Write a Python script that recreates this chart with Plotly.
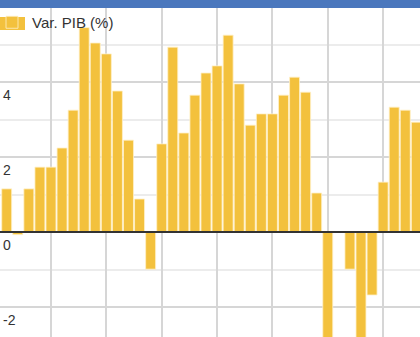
import plotly.graph_objects as go

periods = list(range(1, 39))
pib_var = [1.15, -0.07, 1.15, 1.73, 1.73, 2.24, 3.25, 5.45, 5.04, 4.75,
           3.76, 2.45, 0.88, -0.99, 2.35, 4.93, 2.64, 3.65, 4.24, 4.43,
           5.25, 3.95, 2.85, 3.15, 3.15, 3.65, 4.13, 3.73, 1.04, -3.6,
           0.0, -0.99, -3.8, -1.68, 1.33, 3.33, 3.25, 2.93]
series_name = "Var. PIB (%)"
y_ticks = [-2, 0, 2, 4]
y_tick_text = ["-2", "0", "2", "4"]

W, H = 420, 337
bar_color = "#F3C13D"

fig = go.Figure()
fig.add_trace(go.Bar(
    x=periods, y=pib_var, name=series_name,
    marker=dict(color=bar_color, line=dict(color="rgba(255,240,200,0.8)", width=1)),
    showlegend=True,
))

fig.update_layout(
    width=W, height=H,
    margin=dict(l=0, r=0, t=0, b=0, autoexpand=False),
    paper_bgcolor="white", plot_bgcolor="white",
    bargap=0.1,
    font=dict(family="Liberation Sans, Arial, sans-serif", color="#333"),
    xaxis=dict(range=[0.395, 38.33], tickmode="linear", tick0=0, dtick=5,
               showgrid=True, gridcolor="#d6d6d6", gridwidth=2,
               showticklabels=False, zeroline=False, showline=False),
    yaxis=dict(range=[-2.8, 6.187], tickvals=y_ticks, ticktext=y_tick_text,
               ticklabelposition="inside bottom", ticklabelshift=3,
               tickfont=dict(size=14, color="#333"),
               showgrid=True, gridcolor="#d6d6d6", gridwidth=2,
               minor=dict(dtick=1, tick0=0, showgrid=True, gridcolor="#ececec", gridwidth=2),
               zeroline=False, showline=False),
    legend=dict(x=0, y=1 - 6 / H, xanchor="left", yanchor="top", indentation=-8,
                bgcolor="rgba(0,0,0,0)", font=dict(size=15, color="#333")),
    shapes=[
        dict(type="line", xref="paper", yref="y", x0=0, x1=1, y0=0, y1=0,
             line=dict(color="#333", width=2), layer="above"),
        dict(type="rect", xref="paper", yref="paper", x0=0, x1=1,
             y0=1 - 8 / H, y1=1, fillcolor="#4A77BD", line=dict(width=0), layer="above"),
        dict(type="rect", xref="paper", yref="paper", x0=0, x1=25 / W,
             y0=1 - 30 / H, y1=1 - 17 / H, fillcolor=bar_color, line=dict(width=0), layer="above"),
    ],
)

fig.write_html("out.html")
